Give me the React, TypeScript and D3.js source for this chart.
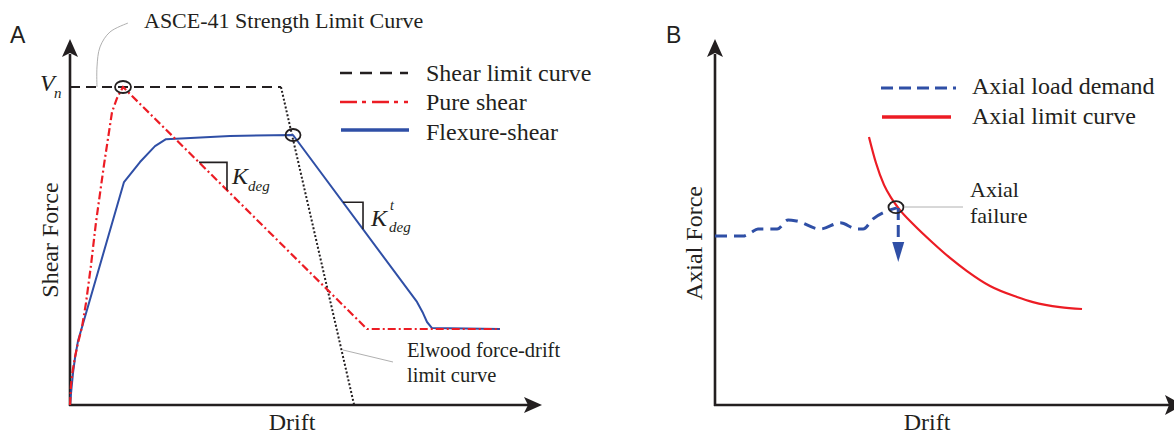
import React from "react";
import * as d3 from "d3";

// ---------- Panel A data (drift units, shear normalised to Vn = 1) ----------
const pureShearDrift = [0, 0.021, 0.053, 0.106, 0.169, 0.254, 0.339, 0.445, 0.551, 0.72, 0.89, 0.996, 1.123, 6.292, 9.11];
const pureShearForce = [0, 0.063, 0.104, 0.151, 0.195, 0.245, 0.321, 0.44, 0.575, 0.755, 0.921, 0.965, 1.0, 0.239, 0.239];
const flexShearDrift = [0, 0.013, 0.032, 0.064, 0.106, 0.169, 1.144, 1.483, 1.801, 2.034, 3.39, 4.725, 7.352, 7.479, 7.564, 7.669, 9.11];
const flexShearForce = [0, 0.022, 0.053, 0.101, 0.148, 0.201, 0.701, 0.764, 0.814, 0.836, 0.846, 0.849, 0.324, 0.289, 0.261, 0.242, 0.239];
const shearLimitDrift = [0, 4.47];
const shearLimitForce = [1, 1];
const elwoodDrift = [4.47, 6.02];
const elwoodForce = [1, 0];
const asceLeaderDrift = [1.229, 0.847, 0.636, 0.572, 0.572];
const asceLeaderForce = [1.201, 1.173, 1.126, 1.063, 1.0];
const legendA = ["Shear limit curve", "Pure shear", "Flexure-shear"];

// ---------- Panel B data ----------
const axialDemandDrift = [0, 0.61, 0.77, 0.94, 1.36, 1.6, 1.79, 2.3, 2.74, 3.11, 3.24, 3.46, 3.72, 3.98];
const axialDemandForce = [0.463, 0.463, 0.471, 0.482, 0.482, 0.507, 0.504, 0.482, 0.499, 0.482, 0.482, 0.51, 0.529, 0.54];
const axialLimitDrift = [3.37, 3.523, 3.698, 3.873, 4.048, 4.333, 4.77, 5.142, 5.514, 6.018, 6.608, 6.958, 7.549, 8.031];
const axialLimitForce = [0.734, 0.663, 0.603, 0.564, 0.534, 0.496, 0.444, 0.403, 0.367, 0.326, 0.296, 0.282, 0.268, 0.263];
const failurePoint = [3.96, 0.542];
const failureDropForce = [0.54, 0.392];
const legendB = ["Axial load demand", "Axial limit curve"];

const BLUE = "#2f4fa6";
const RED = "#ec1c24";
const BLACK = "#231f20";
const SERIF = "'Liberation Serif', 'Times New Roman', serif";
const SANS = "'Liberation Sans', Arial, sans-serif";

const zip = (a: number[], b: number[]) => a.map((v, i) => [v, b[i]] as [number, number]);

function arrowUp(x: number, y: number, L = 18, W = 8, n = 4) {
  return `M${x},${y}L${x - W},${y + L}L${x},${y + L - n}L${x + W},${y + L}Z`;
}
function arrowRight(x: number, y: number, L = 18, W = 8, n = 4) {
  return `M${x},${y}L${x - L},${y - W}L${x - L + n},${y}L${x - L},${y + W}Z`;
}

export default function App() {
  // Panel A scales
  const xA = d3.scaleLinear().domain([0, 10]).range([70, 542]);
  const yA = d3.scaleLinear().domain([0, 1]).range([405, 87]);
  // Panel B scales
  const xB = d3.scaleLinear().domain([0, 10]).range([715, 1172]);
  const yB = d3.scaleLinear().domain([0, 1]).range([405, 40]);

  const lineA = d3.line<[number, number]>().x((d) => xA(d[0])).y((d) => yA(d[1]));
  const lineB = d3.line<[number, number]>().x((d) => xB(d[0])).y((d) => yB(d[1]));
  const smoothB = d3.line<[number, number]>().x((d) => xB(d[0])).y((d) => yB(d[1])).curve(d3.curveMonotoneX);
  const leaderA = d3.line<[number, number]>().x((d) => xA(d[0])).y((d) => yA(d[1])).curve(d3.curveCatmullRom);

  // slope triangles computed on the curves
  const pureDesc = d3.scaleLinear().domain([pureShearDrift[12], pureShearDrift[13]]).range([pureShearForce[12], pureShearForce[13]]);
  const flexDesc = d3.scaleLinear().domain([flexShearDrift[11], flexShearDrift[12]]).range([flexShearForce[11], flexShearForce[12]]);
  const kd = [2.733, 3.326];
  const kt = [5.784, 6.208];
  const triK = `M${xA(kd[0])},${yA(pureDesc(kd[0]))}H${xA(kd[1])}V${yA(pureDesc(kd[1]))}`;
  const triKt = `M${xA(kt[0])},${yA(flexDesc(kt[0]))}H${xA(kt[1])}V${yA(flexDesc(kt[1]))}`;

  const peak: [number, number] = [pureShearDrift[12], pureShearForce[12]];
  const flexPeak: [number, number] = [flexShearDrift[11], flexShearForce[11]];

  const textA = { fontFamily: SERIF, fontSize: 24, fill: BLACK } as const;

  return (
    <svg width={1174} height={435} style={{ position: "absolute", left: 0, top: 0, background: "#fff" }}>
      <rect width={1174} height={435} fill="#fff" />

      {/* ===== Panel A ===== */}
      <text x={10} y={43} fontFamily={SANS} fontSize={23} fill={BLACK}>A</text>
      {/* axes */}
      <line x1={70} y1={406} x2={70} y2={54} stroke={BLACK} strokeWidth={2.6} />
      <line x1={69} y1={405} x2={528} y2={405} stroke={BLACK} strokeWidth={2.6} />
      <path d={arrowUp(70, 39)} fill={BLACK} />
      <path d={arrowRight(542, 405)} fill={BLACK} />

      {/* ASCE leader */}
      <path d={leaderA(zip(asceLeaderDrift, asceLeaderForce)) || ""} fill="none" stroke="#b0b0b0" strokeWidth={1} />
      <text x={144} y={28} fontFamily={SERIF} fontSize={22} fill={BLACK}>ASCE-41 Strength Limit Curve</text>

      {/* shear limit */}
      <path d={lineA(zip(shearLimitDrift, shearLimitForce)) || ""} fill="none" stroke={BLACK} strokeWidth={2} strokeDasharray="10,6" />
      <path d={lineA(zip(elwoodDrift, elwoodForce)) || ""} fill="none" stroke={BLACK} strokeWidth={2} strokeDasharray="2,2" />

      {/* curves */}
      <path d={lineA(zip(flexShearDrift, flexShearForce)) || ""} fill="none" stroke={BLUE} strokeWidth={2} strokeLinejoin="round" />
      <path d={lineA(zip(pureShearDrift, pureShearForce)) || ""} fill="none" stroke={RED} strokeWidth={2.2} strokeDasharray="8,3,2,3" />

      {/* circles */}
      <ellipse cx={xA(peak[0])} cy={yA(peak[1])} rx={8} ry={6} fill="none" stroke={BLACK} strokeWidth={1.8} />
      <ellipse cx={xA(flexPeak[0])} cy={yA(flexPeak[1])} rx={7.5} ry={6} fill="none" stroke={BLACK} strokeWidth={1.8} />

      {/* Vn */}
      <text x={40} y={91} {...textA} fontStyle="italic">V</text>
      <text x={54} y={98} fontFamily={SERIF} fontSize={15} fontStyle="italic" fill={BLACK}>n</text>

      {/* slope triangles */}
      <path d={triK} fill="none" stroke={BLACK} strokeWidth={1.6} />
      <text x={232} y={184} {...textA} fontStyle="italic">K</text>
      <text x={248} y={191} fontFamily={SERIF} fontSize={15} fontStyle="italic" fill={BLACK}>deg</text>
      <path d={triKt} fill="none" stroke={BLACK} strokeWidth={1.6} />
      <text x={371} y={226} {...textA} fontStyle="italic">K</text>
      <text x={390} y={210} fontFamily={SERIF} fontSize={14} fontStyle="italic" fill={BLACK}>t</text>
      <text x={389} y={232} fontFamily={SERIF} fontSize={15} fontStyle="italic" fill={BLACK}>deg</text>

      {/* Elwood annotation */}
      <line x1={343} y1={350} x2={393} y2={362} stroke="#b0b0b0" strokeWidth={1} />
      <text x={407} y={357} fontFamily={SERIF} fontSize={20.5} fill={BLACK}>Elwood force-drift</text>
      <text x={407} y={382} fontFamily={SERIF} fontSize={20.5} fill={BLACK}>limit curve</text>

      {/* legend A */}
      <line x1={340} y1={73} x2={408} y2={73} stroke={BLACK} strokeWidth={2.6} strokeDasharray="12,8" />
      <line x1={340} y1={102} x2={408} y2={102} stroke={RED} strokeWidth={2.6} strokeDasharray="17,5,4,6" />
      <line x1={341} y1={130} x2={409} y2={130} stroke={BLUE} strokeWidth={3.6} />
      {legendA.map((t, i) => (
        <text key={t} x={426} y={[81, 110, 140][i]} {...textA}>{t}</text>
      ))}

      {/* axis labels A */}
      <text x={292} y={430} {...textA} textAnchor="middle">Drift</text>
      <text transform="translate(58,240) rotate(-90)" {...textA} textAnchor="middle">Shear Force</text>

      {/* ===== Panel B ===== */}
      <text x={666} y={43} fontFamily={SANS} fontSize={23} fill={BLACK}>B</text>
      <line x1={715} y1={406} x2={715} y2={54} stroke={BLACK} strokeWidth={2.6} />
      <line x1={714} y1={405} x2={1169} y2={405} stroke={BLACK} strokeWidth={2.6} />
      <path d={arrowUp(715, 39)} fill={BLACK} />
      <path d={arrowRight(1183, 405, 18, 10, 4)} fill={BLACK} />

      <path d={smoothB(zip(axialLimitDrift, axialLimitForce)) || ""} fill="none" stroke={RED} strokeWidth={2.2} />
      <path d={smoothB(zip(axialDemandDrift, axialDemandForce)) || ""} fill="none" stroke={BLUE} strokeWidth={3} strokeDasharray="12,7" />
      {/* drop arrow */}
      <path
        d={lineB([[failurePoint[0] + 0.05, failureDropForce[0]], [failurePoint[0] + 0.05, failureDropForce[1] + 0.05]]) || ""}
        fill="none" stroke={BLUE} strokeWidth={3} strokeDasharray="12,5"
      />
      <path
        d={`M${xB(failurePoint[0] + 0.05)},${yB(failureDropForce[1])}l-6,-20l12,0Z`}
        fill={BLUE}
      />
      <ellipse cx={xB(failurePoint[0])} cy={yB(failurePoint[1])} rx={7.5} ry={6} fill="none" stroke={BLACK} strokeWidth={1.8} />
      <line x1={905} y1={207} x2={963} y2={207} stroke="#b0b0b0" strokeWidth={1} />
      <text x={970} y={197} fontFamily={SERIF} fontSize={22} fill={BLACK}>Axial</text>
      <text x={970} y={223} fontFamily={SERIF} fontSize={22} fill={BLACK}>failure</text>

      {/* legend B */}
      <line x1={881} y1={88} x2={956} y2={88} stroke={BLUE} strokeWidth={3} strokeDasharray="12,6" />
      <line x1={882} y1={117} x2={951} y2={117} stroke={RED} strokeWidth={3.6} />
      {legendB.map((t, i) => (
        <text key={t} x={972} y={[94, 124][i]} {...textA}>{t}</text>
      ))}

      <text x={927} y={430} {...textA} textAnchor="middle">Drift</text>
      <text transform="translate(702,243) rotate(-90)" {...textA} textAnchor="middle">Axial Force</text>
    </svg>
  );
}
